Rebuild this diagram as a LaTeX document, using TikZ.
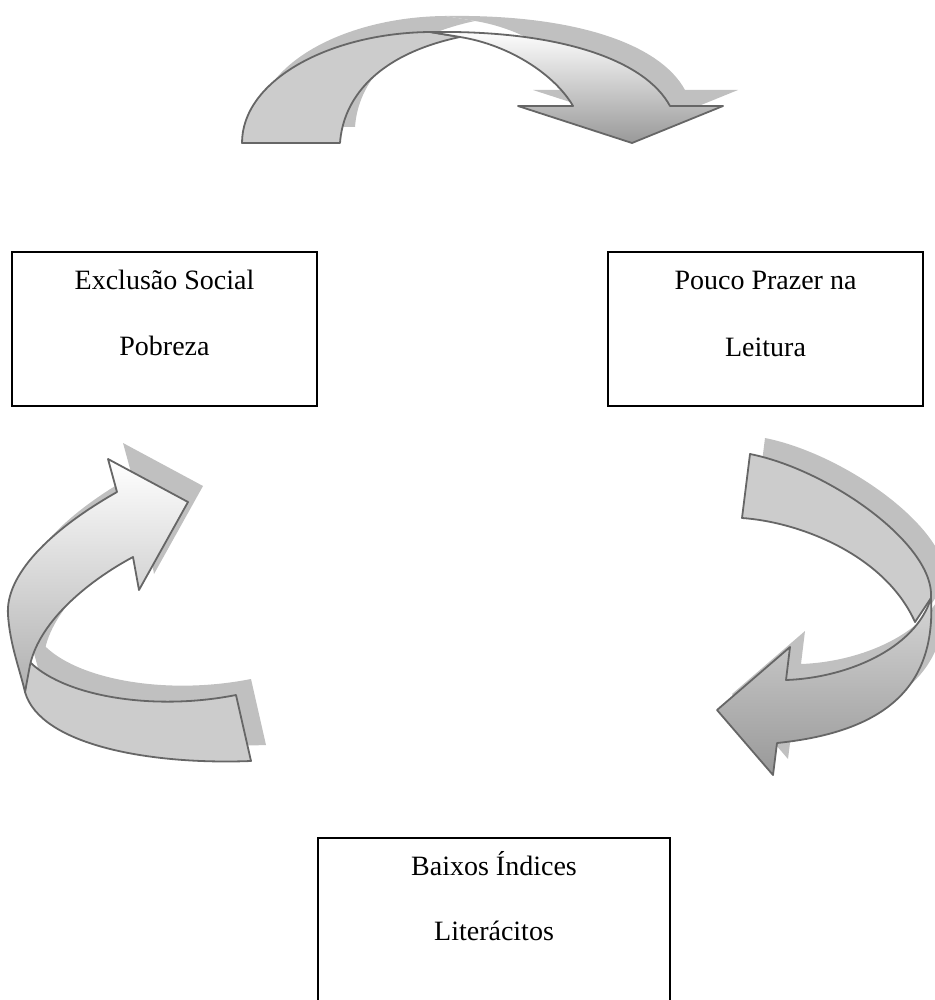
\documentclass[tikz,border=0pt]{standalone}
\usepackage{fontspec}
\setmainfont{Liberation Serif}
\definecolor{edgec}{HTML}{666666}
\definecolor{backc}{HTML}{CCCCCC}
\definecolor{shadc}{HTML}{C0C0C0}
\definecolor{darkc}{HTML}{999999}
\definecolor{midA}{HTML}{D5D5D5}
\definecolor{midB}{HTML}{B0B0B0}
\tikzset{
  boxnode/.style={rectangle, inner sep=0pt, outer sep=0pt, anchor=north west},
  boxline/.style={draw=black, line width=1.6pt},
  lbl/.style={anchor=base, inner sep=0pt, font=\fontsize{28}{32}\selectfont},
  shadowpart/.style={fill=shadc, draw=none},
  backpart/.style={fill=backc, draw=edgec, line width=1.8pt, line join=round},
  frontpart/.style={draw=edgec, line width=1.8pt, line join=round},
}
% top arrow
\newcommand\TopBack[1]{\path[#1] (242,143) .. controls (242,80) and (330,33) .. (430,32) -- (460,37) .. controls (375,55) and (343,100) .. (340,143) -- cycle;}
\newcommand\TopFront[1]{\path[#1] (430,32) .. controls (560,30) and (645,60) .. (670,106) -- (723,106) -- (632,143) -- (518,106) -- (573,106) .. controls (555,75) and (510,45) .. (460,37) -- cycle;}
% right arrow
\newcommand\RightBack[1]{\path[#1] (750,454) .. controls (830,470) and (935,545) .. (931,598) -- (915,622) .. controls (885,555) and (800,522) .. (742,518) -- cycle;}
\newcommand\RightFront[1]{\path[#1] (931,598) .. controls (935,670) and (905,730) .. (777,743) -- (773,775) -- (717,710) -- (790,647) -- (786,680) .. controls (845,678) and (915,650) .. (931,598) -- cycle;}
% left arrow
\newcommand\LeftBack[1]{\path[#1] (28,660) .. controls (60,695) and (150,712) .. (236,695) -- (251,761) .. controls (150,765) and (40,745) .. (25,692) -- cycle;}
\newcommand\LeftFront[1]{\path[#1] (133,557) -- (139,590) -- (188,502) -- (108,459) -- (117,492) .. controls (50,530) and (5,575) .. (8,615) .. controls (10,645) and (20,670) .. (25,692) -- (30,665) .. controls (40,620) and (90,580) .. (133,557) -- cycle;}
\begin{document}
\begin{tikzpicture}[x=1pt,y=-1pt]
\useasboundingbox (0,0) rectangle (934,1000);
% shadows
\begin{scope}[shift={(15,-16)}]
  \TopBack{shadowpart}
  \TopFront{shadowpart}
  \RightBack{shadowpart}
  \RightFront{shadowpart}
  \LeftBack{shadowpart}
  \LeftFront{shadowpart}
\end{scope}
% top arrow
\TopBack{backpart}
\TopFront{frontpart, top color=white, bottom color=darkc}
% right arrow
\RightBack{backpart}
\RightFront{frontpart, top color=midA, bottom color=darkc}
% left arrow
\LeftBack{backpart}
\LeftFront{frontpart, top color=white, bottom color=midB}
% boxes
\node[boxnode, boxline, minimum width=305pt, minimum height=154pt] (excl) at (12,252) {};
\node[lbl] (excl1) at (164.5,289) {Exclusão Social};
\node[lbl] (excl2) at (164.5,355) {Pobreza};
\node[boxnode, boxline, minimum width=315pt, minimum height=154pt] (prazer) at (608,252) {};
\node[lbl] (prazer1) at (765.5,289) {Pouco Prazer na};
\node[lbl] (prazer2) at (765.5,356) {Leitura};
\node[boxnode, minimum width=352pt, minimum height=170pt] (baixos) at (318,838) {};
\draw[boxline] (baixos.south west) -- (baixos.north west) -- (baixos.north east) -- (baixos.south east);
\node[lbl] (baixos1) at (494,875) {Baixos Índices};
\node[lbl] (baixos2) at (494,940) {Literácitos};
\end{tikzpicture}
\end{document}
